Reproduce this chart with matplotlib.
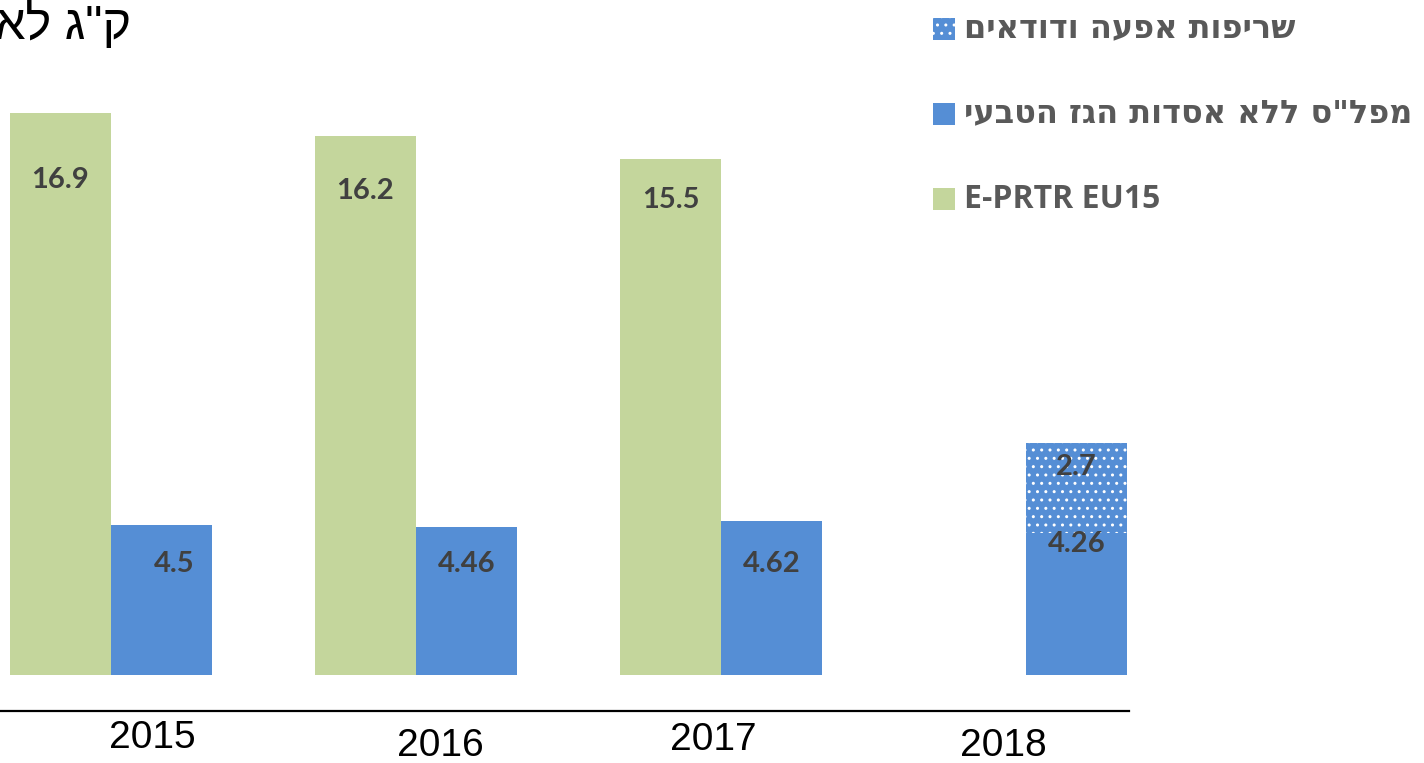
#!/usr/bin/env python3
''' Bar chart: emissions per capita, Israel PRTR vs E-PRTR EU15
'''

import numpy as np
import matplotlib
matplotlib.use('Agg')
from matplotlib import pyplot
from matplotlib.patches import Rectangle

#
# data
#

years = ['2015', '2016', '2017', '2018']
eu15 = [16.9, 16.2, 15.5]
israel = [4.5, 4.46, 4.62, 4.26]
fires = [0, 0, 0, 2.7]

title = 'ק"ג לאדם'
label_fires = 'שריפות אפעה ודודאים'
label_israel = 'מפל"ס ללא אסדות הגז הטבעי'
label_eu15 = 'E-PRTR EU15'

green = '#C4D69C'
blue = '#558ED5'
label_color = '#404040'
legend_color = '#595959'

TITLE = ['Liberation Sans', 'DejaVu Sans']
HEB = ['DejaVu Sans']
LAT = ['Open Sans', 'DejaVu Sans']
NUM = ['Lato', 'DejaVu Sans']


def rtl(s):
    # matplotlib has no bidi support, so feed hebrew in visual order
    return s[::-1]


#
# figure
#

W, H = 1424, 763
fig = pyplot.figure(figsize=(W / 100, H / 100), dpi=100)

# axes spans the whole left part; bars start a bit above the axis line
ax = fig.add_axes([0, 52 / H, 1129 / W, 711 / H])
scale = 33.28     # pixels per unit
pitch = 305       # pixels per year group
ax.set_ylim(-36 / scale, 675 / scale)
ax.set_xlim(-111 / pitch, 1018 / pitch)

w = 101 / pitch
x = np.arange(len(years))

ax.bar(x[:len(eu15)] - w / 2, eu15, w, color=green, linewidth=0)
ax.bar(x + w / 2, israel, w, color=blue, linewidth=0)
fx = [xi for xi, f in zip(x, fires) if f > 0]
fh = [f for f in fires if f > 0]
fb = [b for b, f in zip(israel, fires) if f > 0]
ax.bar(np.array(fx) + w / 2, fh, w, bottom=fb, color=blue,
       hatch='..', edgecolor='white', linewidth=0)

for s in ['top', 'left', 'right']:
    ax.spines[s].set_visible(False)
ax.spines['bottom'].set_linewidth(1.6)
ax.spines['bottom'].set_color('black')
ax.set_xticks([])
ax.set_yticks([])

# value labels
eu_label_y = [14.87, 14.55, 14.28]
for xi, v, ly in zip(x, eu15, eu_label_y):
    ax.text(xi - w / 2, ly, '{}'.format(v), ha='center', va='center',
            fontsize=21, fontweight='bold', color=label_color, family=NUM)

il_label_y = [3.33, 3.33, 3.33, 3.93]
il_label_dx = [0.04, 0, 0, 0]
for xi, v, ly, dx in zip(x, israel, il_label_y, il_label_dx):
    ax.text(xi + w / 2 + dx, ly, '{}'.format(v), ha='center', va='center',
            fontsize=21, fontweight='bold', color=label_color, family=NUM)

for xi, v, b in zip(fx, fh, fb):
    ax.text(xi + w / 2, b + v - 0.72, '{}'.format(v), ha='center',
            va='center', fontsize=21, fontweight='bold', color=label_color,
            family=NUM)

# year labels (staggered as in the original)
year_px = [(152, 738), (440, 746), (713, 740), (1003, 746)]
for yr, (px, py) in zip(years, year_px):
    fig.text(px / W, 1 - py / H, yr, ha='center', va='center',
             fontsize=28, color='black', family=['Liberation Sans', 'DejaVu Sans'])

# title, cut off by the left edge
fig.text(131 / W, 1 - 1 / H, rtl(title), ha='right', va='top',
         fontsize=35, color='black', family=TITLE)

#
# legend
#

entries = [
    (rtl(label_fires), HEB, dict(facecolor=blue, hatch='..', edgecolor='white', linewidth=0)),
    (rtl(label_israel), HEB, dict(facecolor=blue, linewidth=0)),
    (label_eu15, LAT, dict(facecolor=green, linewidth=0)),
]
for i, (text, fam, style) in enumerate(entries):
    cy = 29 + 85 * i
    fig.patches.append(Rectangle((933 / W, 1 - (cy + 11) / H), 22 / W, 22 / H,
                                 transform=fig.transFigure, figure=fig, **style))
    fig.text(964 / W, 1 - cy / H, text, ha='left', va='center',
             fontsize=23, fontweight='bold', color=legend_color, family=fam)

fig.savefig('out.png', dpi=100)
